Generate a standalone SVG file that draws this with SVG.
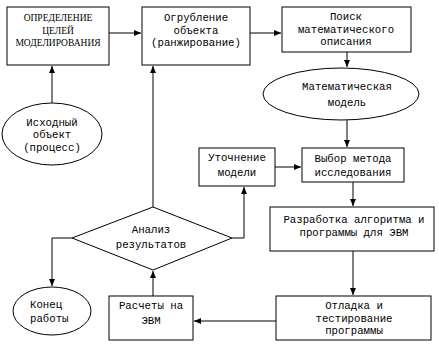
<svg xmlns="http://www.w3.org/2000/svg" width="439" height="349" viewBox="0 0 439 349">
<style>
.n{fill:#fff;stroke:#000;stroke-width:1}
.t{font-family:"Liberation Mono",monospace;font-size:10.7px;fill:#000;text-anchor:middle}
.s{font-family:"Liberation Serif",serif;font-size:9.5px;fill:#000;text-anchor:middle}
.c{fill:none;stroke:#000;stroke-width:1;marker-end:url(#a)}
</style>
<defs>
<marker id="a" markerUnits="userSpaceOnUse" markerWidth="8" markerHeight="7" refX="7" refY="3" orient="auto">
<path d="M0,0 L7,3 L0,6 z" fill="#000"/>
</marker>
</defs>
<rect width="439" height="349" fill="#fff"/>
<g id="connectors">
<path class="c" d="M109,33 H141"/>
<path class="c" d="M250,33 H281"/>
<path class="c" d="M347,52 V67"/>
<path class="c" d="M347,120 V147"/>
<path class="c" d="M275,167 H301"/>
<path class="c" d="M353,182 V206"/>
<path class="c" d="M353,251 V295"/>
<path class="c" d="M276,321 H194"/>
<path class="c" d="M153,296 V271"/>
<path class="c" d="M153,207 V66"/>
<path class="c" d="M232,238 H244 V187"/>
<path class="c" d="M72,238 H52 V286"/>
<path class="c" d="M52,103 V66"/>
</g>
<g id="goal">
<rect class="n" x="7" y="7" width="102" height="58"/>
<text class="s" x="58" y="21">ОПРЕДЕЛЕНИЕ</text>
<text class="s" x="58" y="34">ЦЕЛЕЙ</text>
<text class="s" x="58" y="46">МОДЕЛИРОВАНИЯ</text>
</g>
<g id="coarsen">
<rect class="n" x="142" y="7" width="108" height="58"/>
<text class="t" x="196" y="21">Огрубление</text>
<text class="t" x="196" y="34">объекта</text>
<text class="t" x="196" y="46">(ранжирование)</text>
</g>
<g id="search">
<rect class="n" x="282" y="7" width="129" height="45"/>
<text class="t" x="346" y="20">Поиск</text>
<text class="t" x="346" y="33">математического</text>
<text class="t" x="346" y="45">описания</text>
</g>
<g id="source">
<ellipse class="n" cx="52" cy="134" rx="50" ry="31"/>
<text class="t" x="52" y="126">Исходный</text>
<text class="t" x="52" y="138">объект</text>
<text class="t" x="52" y="151">(процесс)</text>
</g>
<g id="model">
<ellipse class="n" cx="341" cy="94" rx="78" ry="26"/>
<text class="t" x="347" y="90">Математическая</text>
<text class="t" x="347" y="106">модель</text>
</g>
<g id="refine">
<rect class="n" x="199" y="148" width="76" height="38"/>
<text class="t" x="237" y="161">Уточнение</text>
<text class="t" x="237" y="176">модели</text>
</g>
<g id="method">
<rect class="n" x="302" y="148" width="102" height="34"/>
<text class="t" x="353" y="162">Выбор метода</text>
<text class="t" x="353" y="176">исследования</text>
</g>
<g id="develop">
<rect class="n" x="270" y="207" width="164" height="44"/>
<text class="t" x="354" y="223">Разработка алгоритма и</text>
<text class="t" x="354" y="236">программы для ЭВМ</text>
</g>
<g id="debug">
<rect class="n" x="276" y="296" width="155" height="44"/>
<text class="t" x="354" y="309">Отладка и</text>
<text class="t" x="354" y="322">тестирование</text>
<text class="t" x="354" y="334">программы</text>
</g>
<g id="compute">
<rect class="n" x="109" y="296" width="84" height="44"/>
<text class="t" x="151" y="309">Расчеты на</text>
<text class="t" x="151" y="324">ЭВМ</text>
</g>
<g id="analysis">
<polygon class="n" points="153,207 232,238 153,270 72,238"/>
<text class="t" x="151" y="233">Анализ</text>
<text class="t" x="151" y="248">результатов</text>
</g>
<g id="end">
<ellipse class="n" cx="52" cy="311" rx="39" ry="24"/>
<text class="t" x="30" y="308" style="text-anchor:start">Конец</text>
<text class="t" x="30" y="322" style="text-anchor:start">работы</text>
</g>
</svg>
